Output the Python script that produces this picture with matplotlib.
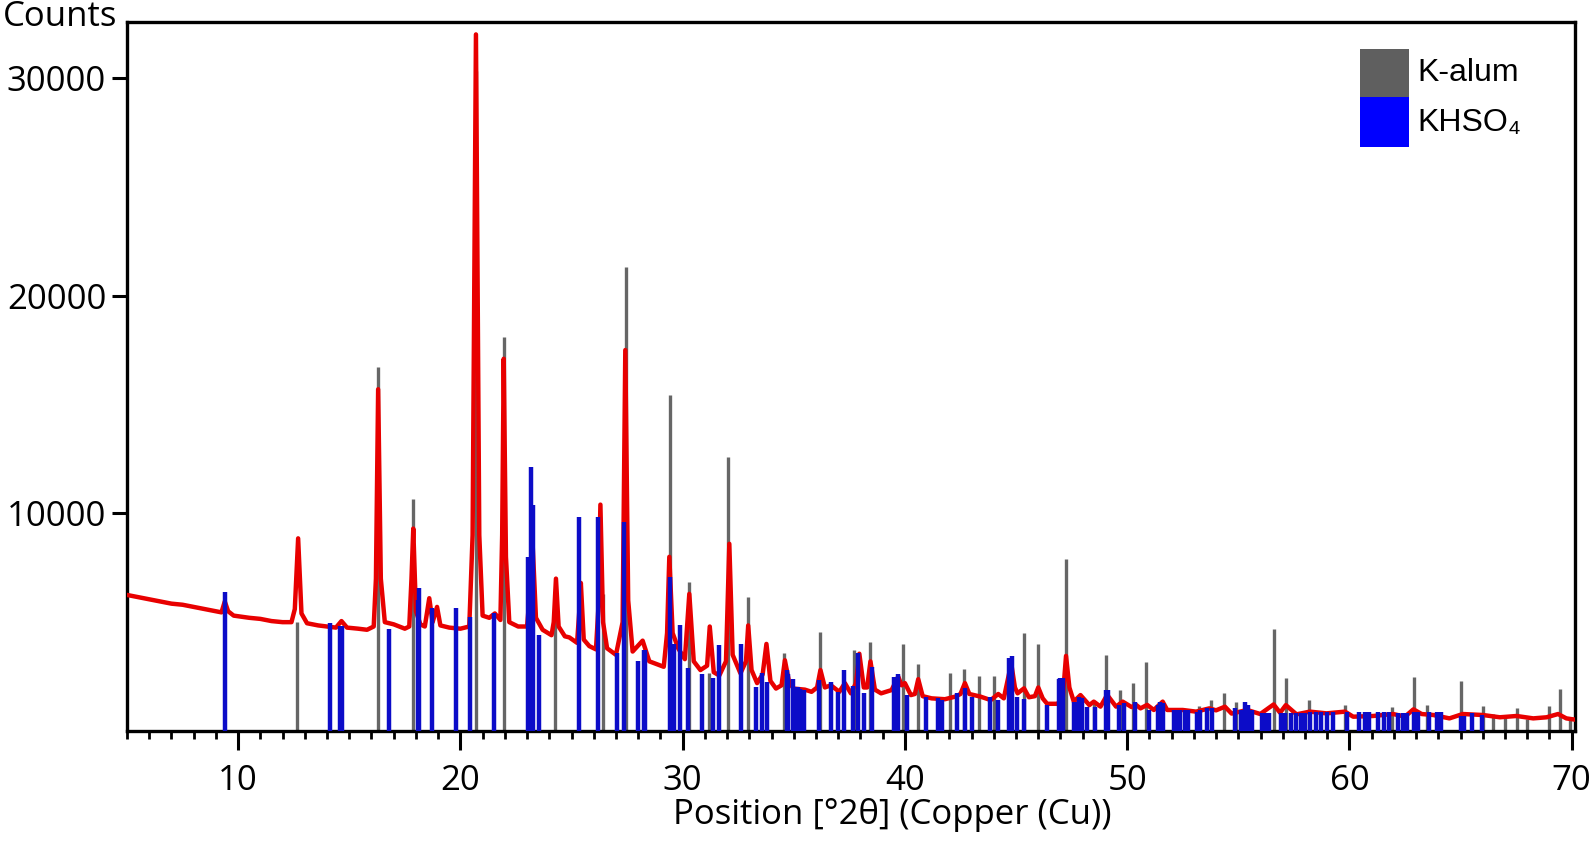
import matplotlib
matplotlib.use("Agg")
import matplotlib.pyplot as plt
from matplotlib.patches import Rectangle
from matplotlib.ticker import MultipleLocator

# measured pattern (2theta, counts)
red_x = [5.0, 5.5, 6.0, 6.5, 7.0, 7.5, 8.0, 8.5, 9.0, 9.25, 9.4, 9.55, 9.8, 10.5, 11.0, 11.5,
         12.0, 12.4, 12.55, 12.7, 12.85, 13.1, 13.6, 14.0, 14.4, 14.65, 14.9, 15.4, 15.8,
         16.1, 16.2, 16.3, 16.42, 16.6, 17.0, 17.5, 17.7, 17.8, 17.88, 18.0, 18.2, 18.4,
         18.6, 18.75, 18.95, 19.1, 19.5, 20.0, 20.4, 20.55, 20.7, 20.85, 21.0, 21.3, 21.55,
         21.8, 21.88, 21.95, 22.05, 22.2, 22.6, 23.0, 23.1, 23.25, 23.4, 23.7, 24.1, 24.2,
         24.3, 24.42, 24.7, 24.9, 25.25, 25.35, 25.42, 25.55, 25.8, 26.1, 26.2, 26.3, 26.42,
         26.6, 27.0, 27.3, 27.42, 27.55, 27.75, 28.2, 28.5, 29.15, 29.3, 29.4, 29.55, 29.8,
         30.1, 30.3, 30.5, 30.8, 31.1, 31.22, 31.4, 31.65, 31.95, 32.1, 32.25, 32.6, 32.85,
         32.95, 33.1, 33.35, 33.6, 33.77, 33.95, 34.2, 34.45, 34.6, 34.8, 35.0, 35.5, 35.8,
         36.05, 36.2, 36.4, 36.67, 37.05, 37.3, 37.57, 37.8, 37.95, 38.15, 38.3, 38.45, 38.65,
         38.93, 39.4, 39.7, 39.85, 40.0, 40.27, 40.45, 40.6, 40.8, 41.2, 41.8, 42.27, 42.5,
         42.7, 42.9, 43.1, 43.4, 43.86, 44.2, 44.45, 44.7, 44.8, 44.95, 45.07, 45.36, 45.58,
         45.85, 46.0, 46.2, 46.4, 46.86, 47.1, 47.25, 47.4, 47.6, 47.9, 48.3, 48.5, 48.8,
         49.1, 49.5, 49.8, 50.2, 50.4, 50.6, 50.9, 51.2, 51.6, 51.8, 52.5, 53.1, 53.7, 54.0,
         54.4, 54.7, 55.4, 55.99, 56.59, 56.88, 57.14, 57.62, 58.22, 58.97, 59.8, 60.17,
         61.07, 61.97, 62.5, 62.88, 63.25, 63.77, 64.5, 65.1, 66.0, 66.77, 67.52, 68.27,
         68.87, 69.39, 69.76, 70.06]
red_y = [6250, 6150, 6050, 5950, 5850, 5800, 5700, 5600, 5500, 5450, 5950, 5500, 5300, 5200, 5150, 5050,
         5000, 5000, 5600, 8850, 5400, 4950, 4850, 4800, 4750, 5050, 4750, 4700, 4650,
         4800, 7000, 15700, 7000, 5000, 4900, 4700, 4800, 7000, 9300, 5500, 4900, 4800,
         6100, 5000, 5700, 4850, 4750, 4700, 4800, 9000, 32000, 9000, 5300, 5200, 5400,
         5100, 9000, 17100, 8000, 5000, 4800, 4800, 6000, 8600, 5200, 4650, 4400, 5000,
         7000, 4800, 4350, 4300, 4050, 5500, 6800, 4200, 3900, 3750, 5500, 10400, 5000,
         3800, 3500, 5000, 17500, 6000, 3650, 4150, 3200, 2950, 4500, 8000, 4500, 3800,
         3300, 6300, 3200, 2800, 3000, 4800, 2700, 2550, 3200, 8600, 3500, 2650, 3200,
         4850, 2800, 2200, 2600, 4000, 2300, 1950, 2100, 3250, 2200, 1950, 1900, 1800,
         2000, 2800, 2000, 2100, 1800, 2200, 1730, 2200, 3550, 2000, 2000, 3200, 1900,
         1730, 1880, 2500, 2100, 2200, 1650, 1700, 2380, 1600, 1500, 1460, 1580, 1700,
         2200, 1700, 1650, 1580, 1420, 1700, 1500, 2700, 3000, 2000, 1730, 1960, 1550,
         1600, 2000, 1500, 1250, 1250, 1500, 3450, 2000, 1350, 1650, 1190, 1350, 1120,
         1660, 1120, 1350, 1100, 1200, 1040, 1200, 966, 1350, 966, 966, 890, 1040, 950,
         1117, 800, 966, 780, 1220, 840, 1190, 765, 890, 810, 890, 657,
         690, 780, 660, 995, 780, 735, 580, 780, 735, 630, 690, 580,
         630, 780, 580, 535]

# reference pattern K-alum
alum_pos = [12.64, 16.31, 17.89, 20.69, 21.95, 24.27, 26.41, 27.43, 29.41, 30.29, 31.2, 32.06,
            32.93, 34.57, 36.19, 37.72, 38.44, 39.91, 40.61, 42.02, 42.68, 43.33, 44.01, 45.36,
            45.97, 47.23, 48.5, 49.07, 49.67, 50.27, 50.87, 53.22, 53.77, 54.34, 54.91, 56.59,
            57.14, 58.19, 59.81, 61.93, 62.92, 63.48, 65.0, 65.99, 66.47, 67.0, 67.52, 67.97,
            68.97, 69.46, 69.94]
alum_int = [5000, 16700, 10640, 30300, 18100, 5400, 6300, 21300, 15430, 6860, 2650, 12600,
            6170, 3570, 4560, 3720, 4100, 4000, 3080, 2680, 2830, 2530, 2530, 4490,
            4000, 7900, 1350, 3490, 1880, 2220, 3190, 1130, 1440, 1730, 1350, 4690,
            2420, 1420, 1190, 1120, 2470, 1190, 2300, 1160, 780, 750, 1060, 550,
            1160, 1930, 550]

# reference pattern KHSO4
khso4_pos = [9.39, 14.12, 14.6, 14.66, 16.78, 18.1, 18.15, 18.73, 19.8, 20.42, 21.52, 23.04,
             23.19, 23.25, 23.54, 25.32, 26.19, 27.04, 27.38, 27.98, 28.25, 28.32, 29.45, 29.52,
             29.6, 29.86, 30.23, 30.86, 31.38, 31.65, 32.63, 33.3, 33.56, 33.79, 34.7, 34.75,
             34.95, 35.1, 35.19, 35.3, 35.47, 36.14, 36.67, 37.0, 37.24, 37.65, 37.9, 38.17,
             38.54, 39.49, 39.67, 40.11, 40.94, 41.47, 41.69, 42.36, 42.69, 43.04, 43.83, 44.19,
             44.68, 44.83, 45.06, 45.34, 46.4, 46.92, 47.0, 47.1, 47.6, 47.7, 47.85, 47.95,
             48.2, 48.57, 49.05, 49.12, 49.62, 49.85, 50.37, 50.97, 51.4, 51.5, 51.6, 52.1,
             52.2, 52.4, 52.6, 52.75, 53.14, 53.3, 53.59, 53.8, 54.87, 55.1, 55.31, 55.45,
             55.6, 56.07, 56.25, 56.4, 56.9, 57.1, 57.35, 57.6, 57.8, 58.0, 58.23, 58.5,
             58.7, 59.0, 59.28, 59.87, 60.45, 60.7, 60.9, 61.3, 61.55, 61.8, 62.2, 62.4,
             62.6, 62.9, 63.1, 63.6, 63.95, 64.1, 65.0, 65.15, 65.5, 65.95]
khso4_int = [6400, 4980, 4820, 4820, 4670, 6000, 6550, 5630, 5630, 5250, 5400, 8000,
             12150, 10400, 4410, 9850, 9850, 3570, 9600, 3200, 3700, 3700, 7090, 4000,
             4000, 4870, 2900, 2600, 2450, 3950, 4000, 2040, 2650, 2250, 2800, 2600,
             2370, 2000, 2000, 1950, 1880, 2330, 2250, 1800, 2800, 2050, 3570, 1740,
             2950, 2500, 2600, 1650, 1580, 1500, 1420, 1740, 1960, 1580, 1580, 1420,
             3340, 3450, 1580, 1450, 1190, 2370, 2420, 2420, 1350, 1350, 1580, 1500,
             1120, 1120, 1880, 1880, 1190, 1270, 1350, 966, 1200, 1350, 1300, 966,
             966, 966, 966, 966, 890, 966, 1040, 1040, 1040, 966, 1350, 1200,
             966, 810, 810, 810, 810, 810, 810, 810, 810, 810, 890, 890,
             890, 890, 890, 890, 850, 850, 850, 850, 850, 850, 810, 810,
             810, 850, 850, 850, 850, 850, 700, 700, 810, 740]

W, H = 1594, 847
fig = plt.figure(figsize=(W / 100, H / 100), dpi=100)
ax = fig.add_axes([127 / W, 1 - 731 / H, (1575 - 127) / W, (731 - 22) / H])

ax.vlines(alum_pos, 0, alum_int, color="#666666", linewidth=2.4, zorder=2)
ax.plot(red_x, red_y, color="#e80000", linewidth=3.2, zorder=3)
ax.vlines(khso4_pos, 0, khso4_int, color="#0c0cc8", linewidth=3.2, zorder=4)

ax.set_xlim(5, 70.15)
ax.set_ylim(0, 32570)
ax.xaxis.set_major_locator(MultipleLocator(10))
ax.xaxis.set_minor_locator(MultipleLocator(1))
ax.set_yticks([10000, 20000, 30000])
for s in ax.spines.values():
    s.set_linewidth(2.4)
ax.tick_params(axis="x", which="major", length=14, width=2.2, pad=10, labelsize=25)
ax.tick_params(axis="x", which="minor", length=6, width=2.0)
ax.tick_params(axis="y", which="major", length=11, width=2.2, pad=4, labelsize=25)
for lab in ax.get_xticklabels() + ax.get_yticklabels():
    lab.set_family("Open Sans")

fig.text(3 / W, 1 - 17 / H, "Counts", fontsize=25, family="Open Sans", va="center", ha="left")
fig.text(892 / W, 1 - 815 / H, "Position [°2θ] (Copper (Cu))", fontsize=25,
         family="Open Sans", va="center", ha="center")

# legend
fig.add_artist(Rectangle((1360 / W, 1 - 97 / H), 49 / W, 48 / H, transform=fig.transFigure,
                         facecolor="#5f5f5f", edgecolor="none"))
fig.add_artist(Rectangle((1360 / W, 1 - 147 / H), 49 / W, 50 / H, transform=fig.transFigure,
                         facecolor="#0000ff", edgecolor="none"))
fig.text(1417 / W, 1 - 73 / H, "K-alum", fontsize=23, family=["Liberation Sans", "DejaVu Sans"],
         va="center", ha="left")
fig.text(1417 / W, 1 - 123 / H, "KHSO₄", fontsize=23, family=["Liberation Sans", "DejaVu Sans"],
         va="center", ha="left")

fig.savefig("out.png", dpi=100)
